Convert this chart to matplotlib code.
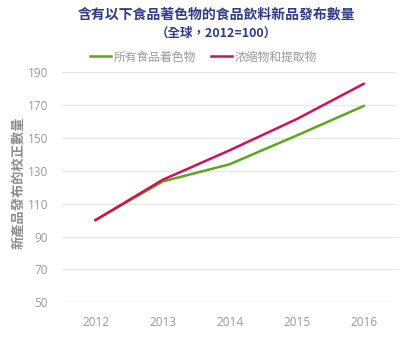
import matplotlib
matplotlib.use("Agg")
import matplotlib.pyplot as plt

plt.rcParams['font.family'] = ['Noto Sans CJK TC', 'DejaVu Sans']

years = [2012, 2013, 2014, 2015, 2016]
all_colourings = [100, 123.5, 134, 151.5, 169.5]
concentrates = [100, 124.5, 142.5, 161.5, 183]
yticks = [50, 70, 90, 110, 130, 150, 170, 190]

series_names = ['所有食品着色物', '浓缩物和提取物']
colours = ['#5BA81E', '#D2105A']

fig = plt.figure(figsize=(4.0, 3.38), dpi=100)
ax = fig.add_axes([0.155, 0.106, 0.838, 0.68])

ax.plot(years, all_colourings, color=colours[0], lw=1.8, label=series_names[0])
ax.plot(years, concentrates, color=colours[1], lw=1.8, label=series_names[1])

ax.set_xlim(2011.5, 2016.5)
ax.set_ylim(50, 190)
ax.set_xticks(years)
ax.set_yticks(yticks)
ax.grid(axis='y', color='#E6E6E6', lw=0.9)
ax.set_axisbelow(True)
for s in ax.spines.values():
    s.set_visible(False)
ax.tick_params(length=0, labelsize=8.5, colors='#999999', pad=10)
ax.tick_params(axis='y', pad=10)
for lab in ax.get_xticklabels() + ax.get_yticklabels():
    lab.set_family(['Open Sans', 'DejaVu Sans'])

ax.set_ylabel('新產品發布的校正數量', fontsize=9.5, color='#8C8C8C',
              fontweight='bold', labelpad=2)
ax.yaxis.set_label_coords(-0.11, 0.52)

fig.text(0.542, 0.957, '含有以下食品著色物的食品飲料新品發布數量', ha='center', va='center',
         fontsize=10, fontweight='bold', color='#2F3A8A')
fig.text(0.54, 0.902, '（全球，2012=100）', ha='center', va='center',
         fontsize=9, fontweight='bold', color='#2F3A8A')

fig.legend(loc='center', bbox_to_anchor=(0.508, 0.831), ncol=2, frameon=False,
           fontsize=8.5, labelcolor='#999999', handlelength=1.8, handletextpad=0.2,
           columnspacing=1.3)

fig.savefig('out.png', dpi=100)
